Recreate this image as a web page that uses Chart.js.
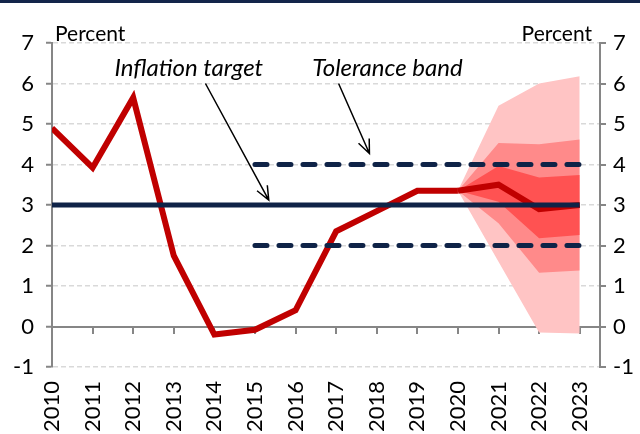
<!DOCTYPE html>
<html>
<head>
<meta charset="utf-8">
<script src="https://cdn.jsdelivr.net/npm/chart.js@4/dist/chart.umd.min.js"></script>
<style>
  html, body { margin: 0; padding: 0; background: #fff; }
  #wrap { position: relative; width: 640px; height: 434px; }
  #topline { position: absolute; left: 0; top: 0; width: 640px; height: 3px; background: #13254a; }
</style>
</head>
<body>
<div id="wrap">
  <canvas id="chart"></canvas>
  <div id="topline"></div>
</div>
<script>
// years on the x axis
const years = [2010, 2011, 2012, 2013, 2014, 2015, 2016, 2017, 2018, 2019, 2020, 2021, 2022, 2023];

// actual inflation, percent
const inflation = [4.9, 3.92, 5.65, 1.75, -0.2, -0.08, 0.4, 2.35, 2.85, 3.35, 3.35, null, null, null];

// forecast median and fan bands (from 2020)
const median     = [null, null, null, null, null, null, null, null, null, null, 3.35, 3.5, 2.9, 3.0];
const outerHigh  = [null, null, null, null, null, null, null, null, null, null, 3.35, 5.45, 6.0, 6.18];
const outerLow   = [null, null, null, null, null, null, null, null, null, null, 3.35, 1.6, -0.15, -0.17];
const middleHigh = [null, null, null, null, null, null, null, null, null, null, 3.35, 4.53, 4.5, 4.62];
const middleLow  = [null, null, null, null, null, null, null, null, null, null, 3.35, 2.55, 1.33, 1.38];
const innerHigh  = [null, null, null, null, null, null, null, null, null, null, 3.35, 3.96, 3.68, 3.74];
const innerLow   = [null, null, null, null, null, null, null, null, null, null, 3.35, 3.08, 2.18, 2.26];

// inflation target and tolerance band
const target    = [3, 3, 3, 3, 3, 3, 3, 3, 3, 3, 3, 3, 3, 3];
const tolHigh   = [null, null, null, null, null, 4, 4, 4, 4, 4, 4, 4, 4, 4];
const tolLow    = [null, null, null, null, null, 2, 2, 2, 2, 2, 2, 2, 2, 2];

// y ticks
const yMin = -1, yMax = 7;

// annotations (data units)
const noteText = ['Inflation target', 'Tolerance band'];
const noteX = [2011.54, 2016.41];
const noteY = [6.37, 6.37];
const arrowFromX = [2013.78, 2017.06];
const arrowFromY = [6.0, 6.0];
const arrowToX = [2015.34, 2017.82];
const arrowToY = [3.12, 4.27];

const pts = arr => years.map((yr, i) => ({ x: yr, y: arr[i] }));

const navy = '#0f2347';
const axisGrey = '#868686';
const font = 'Lato, "Open Sans", sans-serif';

const bandSet = (data, color, fill, order) => ({
    data: pts(data),
    borderWidth: 0,
    pointRadius: 0,
    backgroundColor: color,
    fill: fill,
    order: order
});

const notes = {
    id: 'notes',
    afterDatasetsDraw(chart) {
        const { ctx, scales: { x, y } } = chart;
        ctx.save();
        ctx.font = 'italic 24px ' + font;
        ctx.fillStyle = '#000';
        ctx.textBaseline = 'middle';
        ctx.textAlign = 'left';
        noteText.forEach((t, i) => {
            ctx.fillText(t, x.getPixelForValue(noteX[i]), y.getPixelForValue(noteY[i]));
            const x0 = x.getPixelForValue(arrowFromX[i]);
            const y0 = y.getPixelForValue(arrowFromY[i]);
            const x1 = x.getPixelForValue(arrowToX[i]);
            const y1 = y.getPixelForValue(arrowToY[i]);
            const ang = Math.atan2(y1 - y0, x1 - x0);
            ctx.strokeStyle = '#000';
            ctx.lineWidth = 1.5;
            ctx.beginPath();
            ctx.moveTo(x0, y0);
            ctx.lineTo(x1, y1);
            ctx.moveTo(x1 - 15 * Math.cos(ang - 0.4), y1 - 15 * Math.sin(ang - 0.4));
            ctx.lineTo(x1, y1);
            ctx.lineTo(x1 - 15 * Math.cos(ang + 0.4), y1 - 15 * Math.sin(ang + 0.4));
            ctx.stroke();
        });
        ctx.restore();
    },
    afterDraw(chart) {
        const { ctx, chartArea } = chart;
        ctx.save();
        ctx.font = '21px ' + font;
        ctx.fillStyle = '#000';
        ctx.textBaseline = 'bottom';
        ctx.textAlign = 'left';
        ctx.fillText('Percent', chartArea.left + 3, chartArea.top + 2);
        ctx.textAlign = 'right';
        ctx.fillText('Percent', chartArea.right - 8, chartArea.top + 2);
        ctx.restore();
    }
};

const ctx = document.getElementById('chart').getContext('2d');
new Chart(ctx, {
    type: 'line',
    data: {
        datasets: [
            bandSet(outerHigh, '#ffc4c4', '+1', 20),
            bandSet(outerLow, '#ffc4c4', false, 20),
            bandSet(middleHigh, '#ff8a8a', '+1', 19),
            bandSet(middleLow, '#ff8a8a', false, 19),
            bandSet(innerHigh, '#ff5252', '+1', 18),
            bandSet(innerLow, '#ff5252', false, 18),
            {
                data: pts(median),
                borderColor: '#c00000',
                borderWidth: 6,
                pointRadius: 0,
                fill: false,
                order: 10
            },
            {
                data: pts(inflation),
                borderColor: '#c00000',
                borderWidth: 6,
                pointRadius: 0,
                fill: false,
                order: 9
            },
            {
                data: pts(target),
                borderColor: navy,
                borderWidth: 5,
                pointRadius: 0,
                fill: false,
                order: 5
            },
            {
                data: pts(tolHigh),
                borderColor: navy,
                borderWidth: 5,
                borderDash: [12, 12],
                borderCapStyle: 'round',
                pointRadius: 0,
                fill: false,
                order: 4
            },
            {
                data: pts(tolLow),
                borderColor: navy,
                borderWidth: 5,
                borderDash: [12, 12],
                borderCapStyle: 'round',
                pointRadius: 0,
                fill: false,
                order: 4
            }
        ]
    },
    options: {
        responsive: true,
        maintainAspectRatio: false,
        animation: false,
        layout: { padding: { top: 43, left: 0, right: 0, bottom: 0 } },
        plugins: {
            legend: { display: false },
            tooltip: { enabled: false }
        },
        scales: {
            x: {
                type: 'linear',
                min: years[0],
                max: years[years.length - 1] + 0.5,
                grid: { display: false },
                border: { display: false },
                ticks: {
                    stepSize: 1,
                    includeBounds: false,
                    autoSkip: false,
                    minRotation: 90,
                    maxRotation: 90,
                    padding: 6,
                    color: '#000',
                    font: { family: font, size: 22 },
                    callback: v => String(v)
                },
                afterFit: s => { s.height = 67; }
            },
            x2: {
                type: 'linear',
                axis: 'x',
                position: { y: 0 },
                min: years[0],
                max: years[years.length - 1] + 0.5,
                grid: { drawOnChartArea: false, tickLength: 6, color: axisGrey, lineWidth: 2 },
                border: { color: axisGrey, width: 2 },
                ticks: { stepSize: 1, includeBounds: false, display: false }
            },
            y: {
                position: 'left',
                min: yMin,
                max: yMax,
                grid: { color: '#d9d9d9', lineWidth: 1.5, tickLength: 6, tickColor: axisGrey, tickWidth: 2 },
                border: { color: axisGrey, width: 2, dash: [5, 3] },
                ticks: { stepSize: 1, padding: 12, color: '#000', font: { family: font, size: 22 } },
                afterFit: s => { s.width = 52; }
            },
            y2: {
                position: 'right',
                min: yMin,
                max: yMax,
                grid: { drawOnChartArea: false, tickLength: 6, color: axisGrey, lineWidth: 2 },
                border: { color: axisGrey, width: 2 },
                ticks: { stepSize: 1, padding: 7, color: '#000', font: { family: font, size: 22 } },
                afterFit: s => { s.width = 40; }
            }
        }
    },
    plugins: [notes]
});
</script>
</body>
</html>
